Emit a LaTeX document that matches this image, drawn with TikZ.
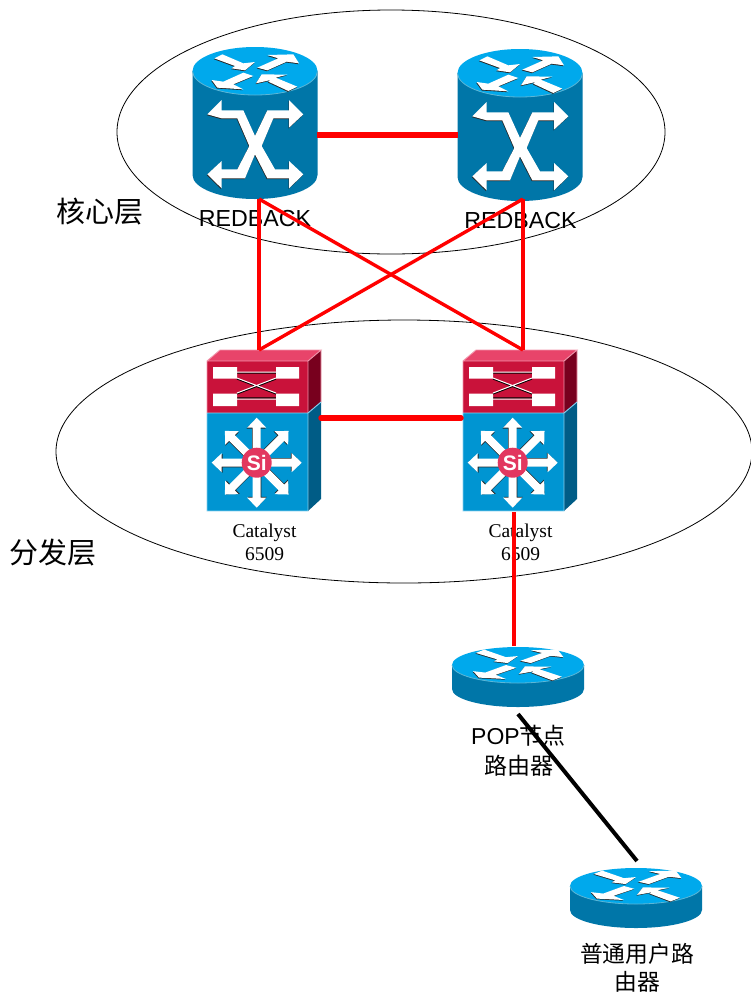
\documentclass[tikz,border=0pt]{standalone}
\usepackage{fontspec}
\setmainfont{Liberation Serif}
\newfontfamily\arialf{Liberation Sans}
\newfontfamily\cjkf{Noto Sans CJK SC}
\definecolor{rtop}{HTML}{00A9EC}
\definecolor{rside}{HTML}{0076A8}
\definecolor{rrim}{HTML}{5CB6D6}
\definecolor{swface}{HTML}{0095D2}
\definecolor{swside}{HTML}{005C86}
\definecolor{swedge}{HTML}{86D0EE}
\definecolor{rdface}{HTML}{C9123A}
\definecolor{rdtop}{HTML}{E8446A}
\definecolor{rdside}{HTML}{78001E}
\definecolor{rdedge}{HTML}{F296AC}
\definecolor{sired}{HTML}{E2375F}
\tikzset{
  x=1pt,y=-1pt,
  hubring/.style={draw=black,line width=0.8pt},
  redlink/.style={draw=red,line width=3.4pt},
  redtrunk/.style={draw=red,line width=5.5pt,line cap=round},
  blacklink/.style={draw=black,line width=4pt},
  cjklabel/.style={font=\cjkf\fontsize{29}{34}\selectfont,inner sep=0pt},
  corelabel/.style={font=\arialf\fontsize{23.2}{28}\selectfont,inner sep=0pt},
  catlabel/.style={font=\fontsize{19.5}{23.5}\selectfont,align=center,inner sep=0pt},
  poplabel/.style={font=\arialf\fontsize{23}{29.5}\selectfont,align=center,inner sep=0pt},
  shadowfill/.style={fill=black!85},
  glyph/.style={fill=white}
}
% four perspective arrows, in 3x units around (225,120)
\newcommand{\toparrows}[1]{%
  \fill[#1] (103,82)--(127,70)--(190,97)--(225,93)--(195,118)--(155,112)--(165,105)--cycle;
  \fill[#1] (232,110)--(262,118)--(320,92)--(357,97)--(340,70)--(262,72)--(295,82)--cycle;
  \fill[#1] (220,135)--(190,125)--(130,152)--(95,147)--(112,170)--(190,175)--(160,160)--cycle;
  \fill[#1] (228,157)--(245,130)--(322,131)--(287,140)--(352,167)--(325,180)--(265,152)--(272,147)--cycle;
}
\newcommand{\xarrows}[1]{%
  \fill[#1] (82,250)--(125,207)--(125,238)--(190,238)--(225,315)--(262,238)--(327,238)--(327,207)--(370,250)--(327,290)--(327,262)--(280,262)--(245,345)--(285,415)--(327,415)--(327,390)--(370,430)--(327,472)--(327,442)--(262,442)--(225,370)--(195,442)--(125,442)--(125,472)--(82,430)--(125,390)--(125,415)--(172,415)--(208,345)--(172,262)--(125,262)--cycle;
}
% #1 x centre, #2 y of top ellipse centre
\newcommand{\corerouter}[2]{%
  \begin{scope}[shift={(#1,#2)}]
    \fill[rside] (-62.5,0)--(-62.5,104) arc[start angle=180,end angle=0,x radius=62.5,y radius=24]--(62.5,0)--cycle;
    \fill[rtop] (0,0) ellipse[x radius=62.5,y radius=24];
    \draw[rrim,line width=0.8pt] (-62.5,0) arc[start angle=180,end angle=0,x radius=62.5,y radius=24];
    \begin{scope}[scale=1/3,shift={(-225,-120)}]
      \begin{scope}[shift={(-1.5,2.5)}]\toparrows{shadowfill}\xarrows{shadowfill}\end{scope}
      \toparrows{glyph}\xarrows{glyph}
    \end{scope}
  \end{scope}}
% #1 x centre, #2 y of top ellipse centre
\newcommand{\smallrouter}[2]{%
  \begin{scope}[shift={(#1,#2)}]
    \fill[rside] (-66,0)--(-66,24) arc[start angle=180,end angle=0,x radius=66,y radius=18]--(66,0)--cycle;
    \fill[rtop] (0,0) ellipse[x radius=66,y radius=18];
    \draw[rrim,line width=0.8pt] (-66,0) arc[start angle=180,end angle=0,x radius=66,y radius=18];
    \begin{scope}[xscale=0.345,yscale=0.28,shift={(-225,-125)}]
      \begin{scope}[shift={(-1.5,2.5)}]\toparrows{shadowfill}\end{scope}
      \toparrows{glyph}
    \end{scope}
  \end{scope}}
\newcommand{\oneray}[1]{%
  \fill[#1] (-4,0)--(-4,-35)--(-9.5,-35)--(0,-45)--(9.5,-35)--(4,-35)--(4,0)--cycle;
}
% #1 left x of the front
\newcommand{\catalyst}[1]{%
  \begin{scope}[shift={(#1,0)}]
    \fill[rdtop] (0,361)--(101,361)--(114,350)--(13,350)--cycle;
    \fill[rdside] (101,361)--(114,350)--(114,402)--(101,413)--cycle;
    \fill[swside] (101,413)--(114,402)--(114,499)--(101,511)--cycle;
    \fill[rdface] (0,361) rectangle (101,413);
    \fill[swface] (0,413) rectangle (101,511);
    \draw[rdedge,line width=0.9pt] (0,413)--(0,361)--(101,361)--(114,350)--(13,350)--(0,361) (101,361)--(101,413) (114,350)--(114,402);
    \draw[swedge,line width=0.9pt] (0,413)--(101,413)--(114,402) (0,413)--(0,511)--(101,511)--(101,413);
    % red panel glyph
    \draw[black,line width=1.1pt] (29,373)--(70,373) (29,398)--(70,398) (30,379)--(69,394) (30,394)--(69,379);
    \draw[white,line width=1pt] (29,372)--(70,372) (29,399)--(70,399) (30,378)--(69,393) (30,393)--(69,378);
    \fill[white] (6,367) rectangle (30,378.5) (69,367) rectangle (92,378.5) (6,393.5) rectangle (30,406) (69,393.5) rectangle (92,406);
    % blue panel glyph
    \begin{scope}[shift={(49.7,462.7)}]
      \foreach \a in {0,45,...,315}{\begin{scope}[rotate=\a,shift={(-0.6,0.9)}]\oneray{shadowfill}\end{scope}}
      \foreach \a in {0,45,...,315}{\begin{scope}[rotate=\a]\oneray{glyph}\end{scope}}
      \fill[sired] (0,0) circle[radius=15];
      \node[inner sep=0pt,text=white,font=\arialf\bfseries\fontsize{21}{21}\selectfont] at (0,0) {Si};
    \end{scope}
  \end{scope}}
\begin{document}
\begin{tikzpicture}
\useasboundingbox (0,0) rectangle (751,994);
\fill[white] (0,0) rectangle (751,994);
% layer rings
\draw[hubring] (391,132) ellipse[x radius=274,y radius=122];
\draw[hubring] (404,451.5) ellipse[x radius=348,y radius=131.5];
% devices
\corerouter{255}{71}
\corerouter{520}{73}
\catalyst{207}
\catalyst{463}
\smallrouter{518}{665}
\smallrouter{636}{886}
% labels
\node[corelabel] (lblA) at (255,219) {REDBACK};
\node[corelabel] (lblB) at (520.5,221) {REDBACK};
\node[cjklabel] (lblcore) at (100,212) {核心层};
\node[cjklabel] (lbldist) at (53,553) {分发层};
\node[catlabel] (lblC) at (264.5,542.5) {Catalyst\\6509};
\node[catlabel] (lblD) at (520.5,542.5) {Catalyst\\6509};
\node[poplabel] (lblP) at (518.5,750.5) {POP{\cjkf 节点}\\{\cjkf 路由器}};
\node[poplabel,font=\cjkf\fontsize{22.8}{27.5}\selectfont] (lblU) at (637,968) {普通用户路\\由器};
% ports
\coordinate (core1s) at (259,199);
\coordinate (core2s) at (523,199);
\coordinate (core1e) at (317,135);
\coordinate (core2w) at (458,135);
\coordinate (cat1n) at (259,350);
\coordinate (cat2n) at (523,350);
\coordinate (cat1e) at (321,418);
\coordinate (cat2w) at (461,418);
\coordinate (cat2s) at (514,512);
\coordinate (popn) at (514,646);
\coordinate (pops) at (518,714);
\coordinate (usern) at (637,861);
% connectors
\path[redlink] (core1s)--(cat1n);
\path[redlink] (core1s)--(cat2n);
\path[redlink] (core2s)--(cat1n);
\path[redlink] (core2s)--(cat2n);
\path[draw=red,line width=6pt] (core1e)--(core2w);
\path[redtrunk] (cat1e)--(cat2w);
\path[redlink] (cat2s)--(popn);
\path[blacklink] (pops)--(usern);
\end{tikzpicture}
\end{document}
